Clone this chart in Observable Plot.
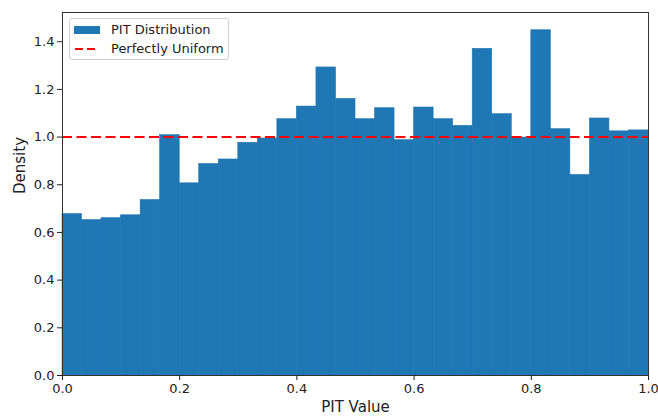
<!DOCTYPE html>
<html>
<head>
<meta charset="utf-8">
<script src="https://cdn.jsdelivr.net/npm/d3@7"></script>
<script src="https://cdn.jsdelivr.net/npm/@observablehq/plot@0.6"></script>
<style>
  html, body { margin: 0; padding: 0; background: #fff; }
  #wrap { position: relative; width: 658px; height: 416px; font-family: "DejaVu Sans", sans-serif; }
  #legend {
    position: absolute; left: 69px; top: 18px; width: 160px; height: 42px;
    border: 1px solid #d0d0d0; border-radius: 3px; background: rgba(255,255,255,0.85);
    box-sizing: border-box; font-size: 13px; color: #222;
  }
  .row { position: absolute; left: 0; height: 18px; display: flex; align-items: center; }
  .sw { position: absolute; left: 4px; }
  .lbl { position: absolute; left: 41px; white-space: nowrap; line-height: 18px; }
</style>
</head>
<body>
<div id="wrap">
  <div id="chart"></div>
  <div id="legend">
    <div class="row" style="top:2px;width:100%">
      <div class="sw" style="width:26px;height:8px;background:#1f77b4;top:5px"></div>
      <div class="lbl" style="top:0">PIT Distribution</div>
    </div>
    <div class="row" style="top:21px;width:100%">
      <svg class="sw" width="26" height="18" style="top:0"><line x1="1" x2="25" y1="9" y2="9" stroke="#ff0000" stroke-width="2" stroke-dasharray="8,4"/></svg>
      <div class="lbl" style="top:0">Perfectly Uniform</div>
    </div>
  </div>
</div>
<script>
// PIT histogram densities, 30 equal-width bins over [0, 1]
const binCount = 30;
const densities = [
  0.677, 0.652, 0.660, 0.672, 0.736, 1.008, 0.806, 0.887, 0.906, 0.976,
  0.994, 1.075, 1.128, 1.292, 1.160, 1.075, 1.121, 0.987, 1.124, 1.075,
  1.047, 1.370, 1.096, 0.998, 1.448, 1.033, 0.841, 1.078, 1.024, 1.028
];
const uniformLevel = [1.0];
const xTicks = [0, 0.2, 0.4, 0.6, 0.8, 1.0];
const yTicks = [0, 0.2, 0.4, 0.6, 0.8, 1.0, 1.2, 1.4];
const xLabel = "PIT Value";
const yLabel = "Density";

const bins = densities.map((d, i) => ({x1: i / binCount, x2: (i + 1) / binCount, density: d}));

const chart = Plot.plot({
  width: 658,
  height: 416,
  marginLeft: 62,
  marginRight: 10,
  marginTop: 12,
  marginBottom: 41,
  style: {fontFamily: "DejaVu Sans, sans-serif", fontSize: "13px", color: "#222", background: "#fff"},
  x: {domain: [0, 1]},
  y: {domain: [0, 1.5225]},
  marks: [
    Plot.rectY(bins, {x1: "x1", x2: "x2", y: "density", fill: "#1f77b4", stroke: "#1f77b4", strokeWidth: 0.6, inset: 0}),
    Plot.ruleY(uniformLevel, {stroke: "#ff0000", strokeWidth: 2, strokeDasharray: "10,4.5"}),
    Plot.frame({stroke: "#333", strokeWidth: 1}),
    Plot.axisX({ticks: xTicks, tickFormat: ".1f", tickSize: 5, tickPadding: 3, label: null, fontSize: 13}),
    Plot.axisY({ticks: yTicks, tickFormat: ".1f", tickSize: 5, tickPadding: 3, label: null, fontSize: 13}),
    Plot.text([xLabel], {frameAnchor: "bottom", dy: 32, text: d => d, fontSize: 15, lineAnchor: "middle"}),
    Plot.text([yLabel], {frameAnchor: "left", dx: -42, rotate: -90, text: d => d, fontSize: 15, lineAnchor: "middle"})
  ]
});
document.getElementById("chart").appendChild(chart);
</script>
</body>
</html>
